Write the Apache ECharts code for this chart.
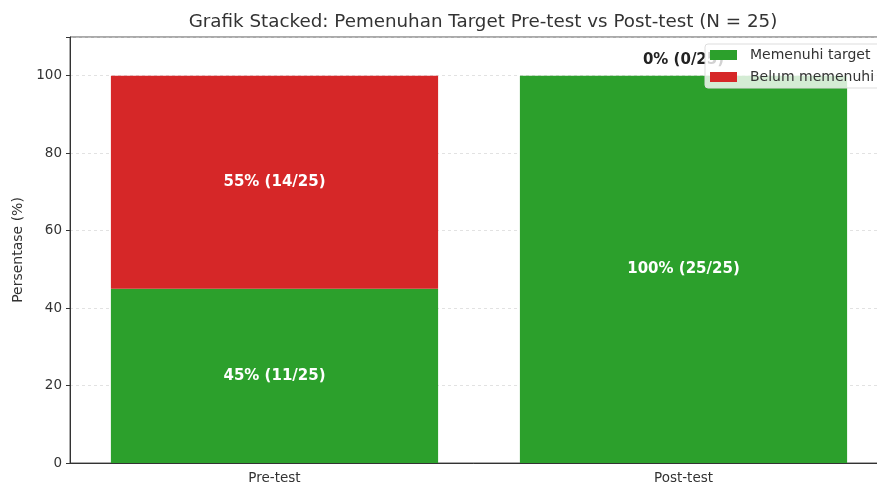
<!DOCTYPE html>
<html>
<head>
<meta charset="utf-8">
<script src="https://cdn.jsdelivr.net/npm/echarts@6/dist/echarts.min.js"></script>
<style>
  html, body { margin: 0; padding: 0; background: #fff; }
  #chart { width: 877px; height: 484px; }
</style>
</head>
<body>
<div id="chart"></div>
<script>
var categories = ['Pre-test', 'Post-test'];
var metPct = [45, 100];
var notPct = [55, 0];
var metCount = [11, 25];
var notCount = [14, 0];
var N = 25;
var yTicks = [0, 20, 40, 60, 80, 100];

var font = 'DejaVu Sans';

var metData = metPct.map(function (v, i) {
    return { value: v, label: { formatter: v + '% (' + metCount[i] + '/' + N + ')' } };
});
var notData = notPct.map(function (v, i) {
    var item = { value: v, label: { formatter: v + '% (' + notCount[i] + '/' + N + ')' } };
    if (v === 0) {
        // zero slice: label sits above the bar in dark text
        item.label.position = 'top';
        item.label.color = '#222';
        item.label.distance = 8;
    }
    return item;
});

var option = {
    animation: false,
    title: {
        text: 'Grafik Stacked: Pemenuhan Target Pre-test vs Post-test (N = 25)',
        left: 478,
        textAlign: 'center',
        top: 8,
        textStyle: { fontFamily: font, fontSize: 18.3, fontWeight: 'normal', color: '#333' }
    },
    legend: {
        orient: 'vertical',
        left: 705,
        top: 44,
        icon: 'rect',
        itemWidth: 27,
        itemHeight: 10,
        itemGap: 8,
        padding: [4, 8, 4, 5],
        backgroundColor: 'rgba(255,255,255,0.8)',
        borderColor: '#ddd',
        borderWidth: 1,
        borderRadius: 3,
        textStyle: { fontFamily: font, fontSize: 14, color: '#333', padding: [0, 0, 0, 8] },
        data: ['Memenuhi target', 'Belum memenuhi']
    },
    grid: {
        left: 70,
        top: 37,
        width: 818,
        height: 426,
        containLabel: false,
        outerBoundsMode: 'none',
        show: true,
        borderColor: '#555',
        borderWidth: 1
    },
    xAxis: {
        type: 'category',
        data: categories,
        axisLine: { lineStyle: { color: '#333' } },
        axisTick: { alignWithLabel: true, length: 4, lineStyle: { color: '#333' } },
        axisLabel: { fontFamily: font, fontSize: 13.5, color: '#333', margin: 8 }
    },
    yAxis: {
        type: 'value',
        min: 0,
        max: 110,
        interval: 20,
        name: 'Persentase (%)',
        nameLocation: 'middle',
        nameGap: 44,
        nameTextStyle: { fontFamily: font, fontSize: 14, color: '#333' },
        axisLine: { show: true, lineStyle: { color: '#333' } },
        axisTick: { show: true, length: 4, lineStyle: { color: '#333' } },
        axisLabel: {
            fontFamily: font, fontSize: 13.5, color: '#333', margin: 8,
            formatter: function (v) { return yTicks.indexOf(v) >= 0 ? String(v) : ''; }
        },
        splitLine: { show: true, lineStyle: { color: '#ccc', type: [3, 3], width: 0.8, opacity: 0.7 } }
    },
    series: [
        {
            name: 'Memenuhi target',
            type: 'bar',
            stack: 'total',
            barWidth: '80%',
            itemStyle: { color: '#2ca02c' },
            label: { show: true, position: 'inside', color: '#fff', fontFamily: font, fontSize: 15, fontWeight: 'bold' },
            data: metData
        },
        {
            name: 'Belum memenuhi',
            type: 'bar',
            stack: 'total',
            barWidth: '80%',
            itemStyle: { color: '#d62728' },
            label: { show: true, position: 'inside', color: '#fff', fontFamily: font, fontSize: 15, fontWeight: 'bold' },
            data: notData
        }
    ]
};

var myChart = echarts.init(document.getElementById('chart'));
myChart.setOption(option);
</script>
</body>
</html>
